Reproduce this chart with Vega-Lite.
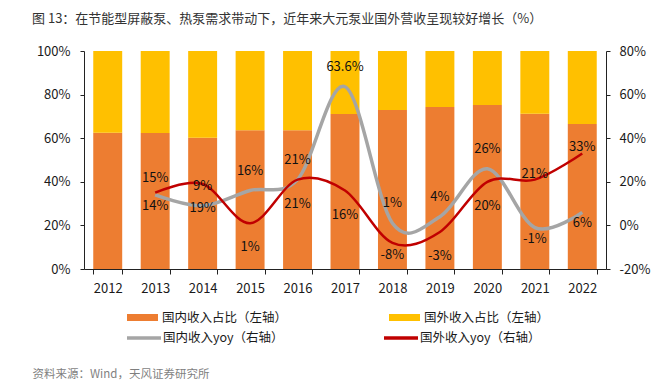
{
  "$schema": "https://vega.github.io/schema/vega-lite/v6.json",
  "width": 522,
  "height": 218,
  "autosize": {"type": "none"},
  "padding": {"left": 84, "top": 51, "right": 60, "bottom": 112},
  "config": {
    "font": "Noto Sans CJK SC",
    "view": {"stroke": null},
    "locale": {"number": {"decimal": ".", "thousands": ",", "grouping": [3], "currency": ["", ""], "minus": "-"}},
    "axis": {"labelFontSize": 13, "labelColor": "#1a1a1a", "domainColor": "#222222", "tickColor": "#222222", "grid": false, "labelFont": "Noto Sans CJK SC"},
    "legend": {"labelFont": "Noto Sans CJK SC", "labelFontSize": 12.5, "labelColor": "#1a1a1a", "padding": 0}
  },
  "title": {
    "text": "图 13：在节能型屏蔽泵、热泵需求带动下，近年来大元泵业国外营收呈现较好增长（%）",
    "anchor": "start", "frame": "group", "dx": -52, "offset": 19,
    "fontSize": 13, "fontWeight": "normal", "color": "#333333", "font": "Noto Sans CJK SC"
  },
  "datasets": {
    "share": [
      {"year": "2012", "type": "国内收入占比（左轴）", "value": 0.625},
      {"year": "2013", "type": "国内收入占比（左轴）", "value": 0.624},
      {"year": "2014", "type": "国内收入占比（左轴）", "value": 0.602},
      {"year": "2015", "type": "国内收入占比（左轴）", "value": 0.636},
      {"year": "2016", "type": "国内收入占比（左轴）", "value": 0.636},
      {"year": "2017", "type": "国内收入占比（左轴）", "value": 0.711},
      {"year": "2018", "type": "国内收入占比（左轴）", "value": 0.729},
      {"year": "2019", "type": "国内收入占比（左轴）", "value": 0.743},
      {"year": "2020", "type": "国内收入占比（左轴）", "value": 0.752},
      {"year": "2021", "type": "国内收入占比（左轴）", "value": 0.712},
      {"year": "2022", "type": "国内收入占比（左轴）", "value": 0.665},
      {"year": "2012", "type": "国外收入占比（左轴）", "value": 0.375},
      {"year": "2013", "type": "国外收入占比（左轴）", "value": 0.376},
      {"year": "2014", "type": "国外收入占比（左轴）", "value": 0.398},
      {"year": "2015", "type": "国外收入占比（左轴）", "value": 0.364},
      {"year": "2016", "type": "国外收入占比（左轴）", "value": 0.364},
      {"year": "2017", "type": "国外收入占比（左轴）", "value": 0.289},
      {"year": "2018", "type": "国外收入占比（左轴）", "value": 0.271},
      {"year": "2019", "type": "国外收入占比（左轴）", "value": 0.257},
      {"year": "2020", "type": "国外收入占比（左轴）", "value": 0.248},
      {"year": "2021", "type": "国外收入占比（左轴）", "value": 0.288},
      {"year": "2022", "type": "国外收入占比（左轴）", "value": 0.335}
    ],
    "yoy": [
      {"year": "2013", "series": "国内收入yoy（右轴）", "value": 0.14},
      {"year": "2014", "series": "国内收入yoy（右轴）", "value": 0.09},
      {"year": "2015", "series": "国内收入yoy（右轴）", "value": 0.16},
      {"year": "2016", "series": "国内收入yoy（右轴）", "value": 0.21},
      {"year": "2017", "series": "国内收入yoy（右轴）", "value": 0.636},
      {"year": "2018", "series": "国内收入yoy（右轴）", "value": 0.01},
      {"year": "2019", "series": "国内收入yoy（右轴）", "value": 0.04},
      {"year": "2020", "series": "国内收入yoy（右轴）", "value": 0.26},
      {"year": "2021", "series": "国内收入yoy（右轴）", "value": -0.01},
      {"year": "2022", "series": "国内收入yoy（右轴）", "value": 0.06},
      {"year": "2013", "series": "国外收入yoy（右轴）", "value": 0.15},
      {"year": "2014", "series": "国外收入yoy（右轴）", "value": 0.19},
      {"year": "2015", "series": "国外收入yoy（右轴）", "value": 0.01},
      {"year": "2016", "series": "国外收入yoy（右轴）", "value": 0.21},
      {"year": "2017", "series": "国外收入yoy（右轴）", "value": 0.16},
      {"year": "2018", "series": "国外收入yoy（右轴）", "value": -0.08},
      {"year": "2019", "series": "国外收入yoy（右轴）", "value": -0.03},
      {"year": "2020", "series": "国外收入yoy（右轴）", "value": 0.20},
      {"year": "2021", "series": "国外收入yoy（右轴）", "value": 0.21},
      {"year": "2022", "series": "国外收入yoy（右轴）", "value": 0.33}
    ]
  },
  "encoding": {
    "x": {
      "field": "year", "type": "ordinal",
      "scale": {"paddingInner": 0.39, "paddingOuter": 0.195},
      "axis": {
        "labelAngle": 0, "tickBand": "extent", "tickSize": 5, "labelPadding": 8,
        "title": "资料来源：Wind，天风证券研究所",
        "titleAnchor": "start", "titleAlign": "left", "titleX": -52, "titleY": 105,
        "titleBaseline": "middle", "titleFontSize": 11.5, "titleFontWeight": "normal",
        "titleColor": "#7f7f7f", "titleFont": "Noto Sans CJK SC"
      }
    }
  },
  "layer": [
    {
      "data": {"name": "share"},
      "mark": {"type": "bar"},
      "encoding": {
        "y": {
          "field": "value", "type": "quantitative", "stack": "zero",
          "scale": {"domain": [0, 1]},
          "axis": {"orient": "left", "format": ".0%", "values": [0, 0.2, 0.4, 0.6, 0.8, 1], "title": null, "tickSize": 4, "labelPadding": 10}
        },
        "order": {"field": "type", "sort": "ascending"},
        "color": {
          "field": "type", "type": "nominal",
          "scale": {"domain": ["国内收入占比（左轴）", "国外收入占比（左轴）"], "range": ["#ED7D31", "#FFC000"]},
          "legend": {
            "orient": "none", "legendX": 43, "legendY": 251, "direction": "horizontal", "columns": 2,
            "columnPadding": 101, "symbolType": "M-1,-0.226H1V0.226H-1Z", "symbolSize": 961,
            "symbolStrokeWidth": 0, "labelOffset": 4, "title": null
          }
        }
      }
    },
    {
      "data": {"name": "yoy"},
      "encoding": {
        "y": {
          "field": "value", "type": "quantitative",
          "scale": {"domain": [-0.2, 0.8]},
          "axis": {"orient": "right", "format": ".0%", "values": [-0.2, 0, 0.2, 0.4, 0.6, 0.8], "title": null, "tickSize": 4, "labelPadding": 9}
        }
      },
      "layer": [
        {
          "transform": [{"filter": {"field": "series", "equal": "国内收入yoy（右轴）"}}],
          "mark": {"type": "line", "interpolate": "cardinal", "strokeWidth": 3.5},
          "encoding": {
            "stroke": {
              "field": "series", "type": "nominal",
              "scale": {"domain": ["国内收入yoy（右轴）", "国外收入yoy（右轴）"], "range": ["#A5A5A5", "#C00000"]},
              "legend": {
                "orient": "none", "legendX": 41, "legendY": 268, "direction": "horizontal", "columns": 2,
                "columnPadding": 93, "symbolType": "stroke", "symbolSize": 1156, "symbolStrokeWidth": 3.5,
                "labelOffset": 0, "title": null
              }
            }
          }
        },
        {
          "transform": [{"filter": {"field": "series", "equal": "国外收入yoy（右轴）"}}],
          "mark": {"type": "line", "interpolate": "cardinal", "strokeWidth": 2.5},
          "encoding": {
            "stroke": {"field": "series", "type": "nominal"}
          }
        },
        {
          "transform": [{"filter": {"and": [{"field": "series", "equal": "国内收入yoy（右轴）"}, {"field": "year", "oneOf": ["2014", "2015", "2016", "2017", "2018", "2019", "2020"]}]}}],
          "mark": {"type": "text", "dy": -20, "fontSize": 13, "color": "#111111"},
          "encoding": {"text": {"field": "value", "type": "quantitative", "format": ".1~%"}}
        },
        {
          "transform": [{"filter": {"and": [{"field": "series", "equal": "国内收入yoy（右轴）"}, {"field": "year", "oneOf": ["2013", "2021", "2022"]}]}}],
          "mark": {"type": "text", "dy": 11, "fontSize": 13, "color": "#111111"},
          "encoding": {"text": {"field": "value", "type": "quantitative", "format": ".1~%"}}
        },
        {
          "transform": [{"filter": {"and": [{"field": "series", "equal": "国外收入yoy（右轴）"}, {"field": "year", "oneOf": ["2014", "2015", "2016", "2017", "2019", "2020"]}]}}],
          "mark": {"type": "text", "dy": 24, "fontSize": 13, "color": "#111111"},
          "encoding": {"text": {"field": "value", "type": "quantitative", "format": ".1~%"}}
        },
        {
          "transform": [{"filter": {"and": [{"field": "series", "equal": "国外收入yoy（右轴）"}, {"field": "year", "oneOf": ["2018"]}]}}],
          "mark": {"type": "text", "dy": 12, "fontSize": 13, "color": "#111111"},
          "encoding": {"text": {"field": "value", "type": "quantitative", "format": ".1~%"}}
        },
        {
          "transform": [{"filter": {"and": [{"field": "series", "equal": "国外收入yoy（右轴）"}, {"field": "year", "oneOf": ["2013"]}]}}],
          "mark": {"type": "text", "dy": -15, "fontSize": 13, "color": "#111111"},
          "encoding": {"text": {"field": "value", "type": "quantitative", "format": ".1~%"}}
        },
        {
          "transform": [{"filter": {"and": [{"field": "series", "equal": "国外收入yoy（右轴）"}, {"field": "year", "oneOf": ["2021", "2022"]}]}}],
          "mark": {"type": "text", "dy": -6, "fontSize": 13, "color": "#111111"},
          "encoding": {"text": {"field": "value", "type": "quantitative", "format": ".1~%"}}
        }
      ]
    }
  ],
  "resolve": {"scale": {"y": "independent"}}
}
